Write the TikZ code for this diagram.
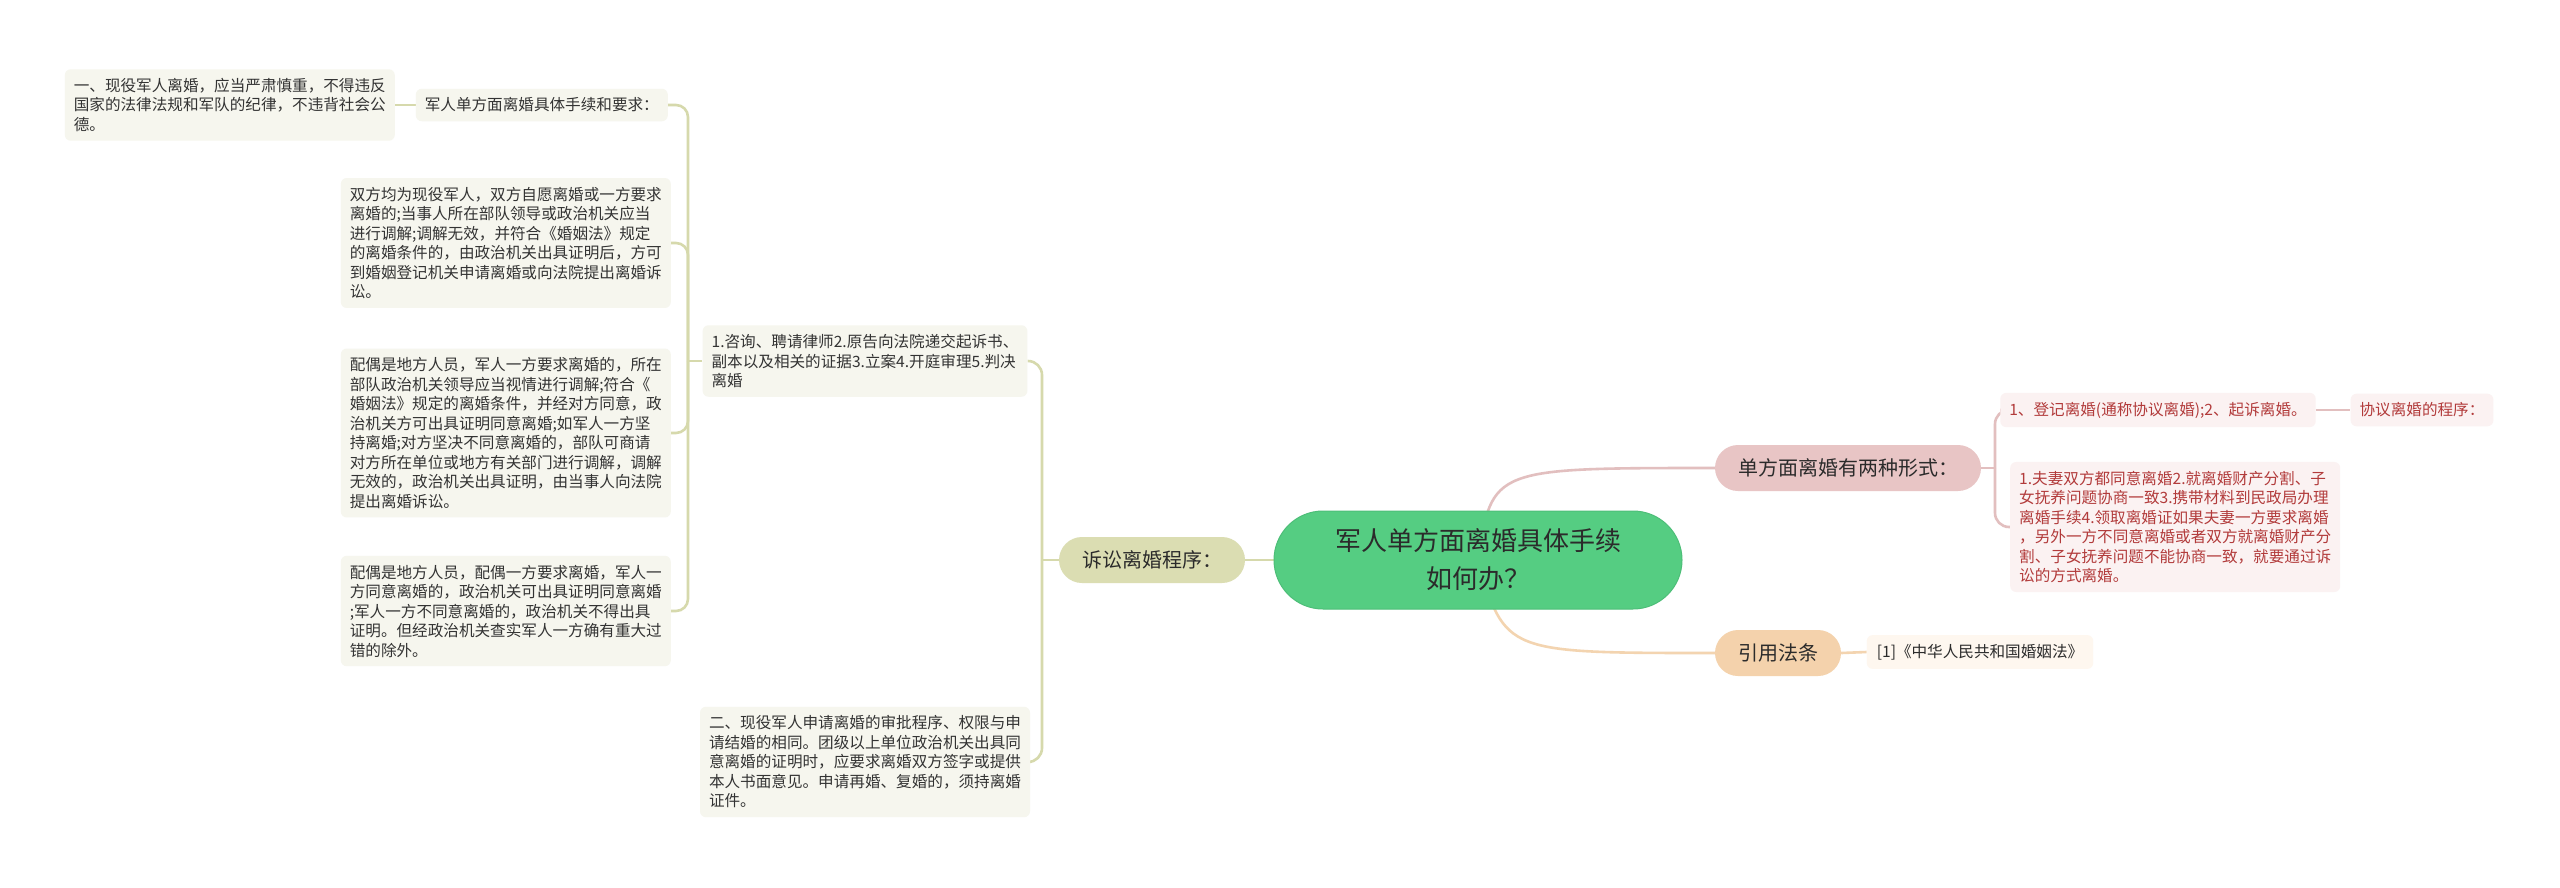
\documentclass[tikz,border=0pt]{standalone}
\usepackage{fontspec}
\newfontfamily\cjk{Noto Sans CJK SC}
\pgfdeclarelayer{bg}
\pgfsetlayers{bg,main}
\definecolor{cgreen}{HTML}{55CD82}
\definecolor{cgreenb}{HTML}{4DBE78}
\definecolor{colivebg}{HTML}{DBDDB2}
\definecolor{colive}{HTML}{D6D9AC}
\definecolor{cpinkbg}{HTML}{E8C5C5}
\definecolor{cpink}{HTML}{E2BFBF}
\definecolor{cpeachbg}{HTML}{F4D2AC}
\definecolor{cpeach}{HTML}{F3D4B0}
\definecolor{cleafbg}{HTML}{F6F6EE}
\definecolor{credbg}{HTML}{FBF2F2}
\definecolor{crefbg}{HTML}{FEF7EF}
\definecolor{credtext}{HTML}{B23B3B}
\definecolor{cdark}{HTML}{2B2B2B}
\definecolor{cleaftext}{HTML}{333333}
\tikzset{
  x=1pt, y=-1pt,
  smallfont/.style={font=\cjk\fontsize{15.6}{19.5}\selectfont},
  leafbox/.style={smallfont, fill=cleafbg, rounded corners=6pt, inner xsep=9pt, inner ysep=9pt, align=left, text=cleaftext},
  redbox/.style={smallfont, fill=credbg, rounded corners=6pt, inner xsep=9pt, inner ysep=9pt, align=left, text=credtext},
  refbox/.style={smallfont, fill=crefbg, rounded corners=6pt, inner xsep=10pt, inner ysep=9pt, align=left, text=cdark},
  branchbox/.style={font=\cjk\fontsize{20}{24}\selectfont, minimum height=46pt, rounded corners=23pt, inner xsep=23pt, inner ysep=0pt, text=cdark},
  centralbox/.style={font=\cjk\fontsize{26}{38}\selectfont, fill=cgreen, draw=cgreenb, line width=1pt, minimum width=408pt, minimum height=98pt, rounded corners=49pt, align=center, text=cdark},
  oliveline/.style={draw=colive, line width=2.6pt},
  pinkline/.style={draw=cpink, line width=2.6pt},
  peachline/.style={draw=cpeach, line width=2.6pt},
}
\begin{document}
\begin{tikzpicture}
\useasboundingbox (0,0) rectangle (2560,887);
% central
\node[centralbox] (c) at (1478,560) {军人单方面离婚具体手续\\如何办？};
% main branches
\node[branchbox, fill=colivebg] (sus) at (1152,560) {诉讼离婚程序：};
\node[branchbox, fill=cpinkbg] (dan) at (1848,468) {单方面离婚有两种形式：};
\node[branchbox, fill=cpeachbg] (yin) at (1778,653) {引用法条};
% right side
\node[refbox] (ref) at (1980,652) {[1]《中华人民共和国婚姻法》};
\node[redbox] (dj) at (2158,410) {1、登记离婚(通称协议离婚);2、起诉离婚。};
\node[redbox] (xy) at (2422,410) {协议离婚的程序：};
\node[redbox, anchor=west] (red) at (2010,527) {1.夫妻双方都同意离婚2.就离婚财产分割、子\\女抚养问题协商一致3.携带材料到民政局办理\\离婚手续4.领取离婚证如果夫妻一方要求离婚\\，另外一方不同意离婚或者双方就离婚财产分\\割、子女抚养问题不能协商一致，就要通过诉\\讼的方式离婚。};
% left side
\node[leafbox] (zx) at (865,361) {1.咨询、聘请律师2.原告向法院递交起诉书、\\副本以及相关的证据3.立案4.开庭审理5.判决\\离婚};
\node[leafbox] (er) at (865,762) {二、现役军人申请离婚的审批程序、权限与申\\请结婚的相同。团级以上单位政治机关出具同\\意离婚的证明时，应要求离婚双方签字或提供\\本人书面意见。申请再婚、复婚的，须持离婚\\证件。};
\node[leafbox, anchor=east] (jr) at (668,105) {军人单方面离婚具体手续和要求：};
\node[leafbox, anchor=east] (yi) at (395,105) {一、现役军人离婚，应当严肃慎重，不得违反\\国家的法律法规和军队的纪律，不违背社会公\\德。};
\node[leafbox, anchor=east] (sf) at (671,243) {双方均为现役军人，双方自愿离婚或一方要求\\离婚的;当事人所在部队领导或政治机关应当\\进行调解;调解无效，并符合《婚姻法》规定\\的离婚条件的，由政治机关出具证明后，方可\\到婚姻登记机关申请离婚或向法院提出离婚诉\\讼。};
\node[leafbox, anchor=east] (po) at (671,433) {配偶是地方人员，军人一方要求离婚的，所在\\部队政治机关领导应当视情进行调解;符合《\\婚姻法》规定的离婚条件，并经对方同意，政\\治机关方可出具证明同意离婚;如军人一方坚\\持离婚;对方坚决不同意离婚的，部队可商请\\对方所在单位或地方有关部门进行调解，调解\\无效的，政治机关出具证明，由当事人向法院\\提出离婚诉讼。};
\node[leafbox, anchor=east] (pt) at (671,611) {配偶是地方人员，配偶一方要求离婚，军人一\\方同意离婚的，政治机关可出具证明同意离婚\\;军人一方不同意离婚的，政治机关不得出具\\证明。但经政治机关查实军人一方确有重大过\\错的除外。};
% coordinates for brackets
\coordinate (bs) at (1042,560);
\coordinate (bz) at (688,361);
\coordinate (bd) at (1995,468);
\begin{pgfonlayer}{bg}
\fill[white] (0,0) rectangle (2560,887);
\draw[oliveline] (sus.east) -- (c.west);
\draw[pinkline] (c.center) .. controls (1492,468) .. (dan.west);
\draw[peachline] (c.center) .. controls (1505,653) .. (yin.west);
\draw[peachline] (yin.east) -- (ref.west);
\draw[pinkline] (dj.east) -- (xy.west);
\draw[pinkline] (dan.east) -- (bd);
\draw[pinkline, rounded corners=14pt] (bd) |- (dj.west);
\draw[pinkline, rounded corners=14pt] (bd) |- (red.west);
\draw[oliveline] (sus.west) -- (bs);
\draw[oliveline, rounded corners=14pt] (bs) |- (zx.east);
\draw[oliveline, rounded corners=14pt] (bs) |- (er.east);
\draw[oliveline] (zx.west) -- (bz);
\draw[oliveline, rounded corners=12pt] (bz) |- (jr.east);
\draw[oliveline, rounded corners=12pt] (bz) |- (sf.east);
\draw[oliveline, rounded corners=12pt] (bz) |- (po.east);
\draw[oliveline, rounded corners=12pt] (bz) |- (pt.east);
\draw[oliveline] (yi.east) -- (jr.west);
\end{pgfonlayer}
\end{tikzpicture}
\end{document}
